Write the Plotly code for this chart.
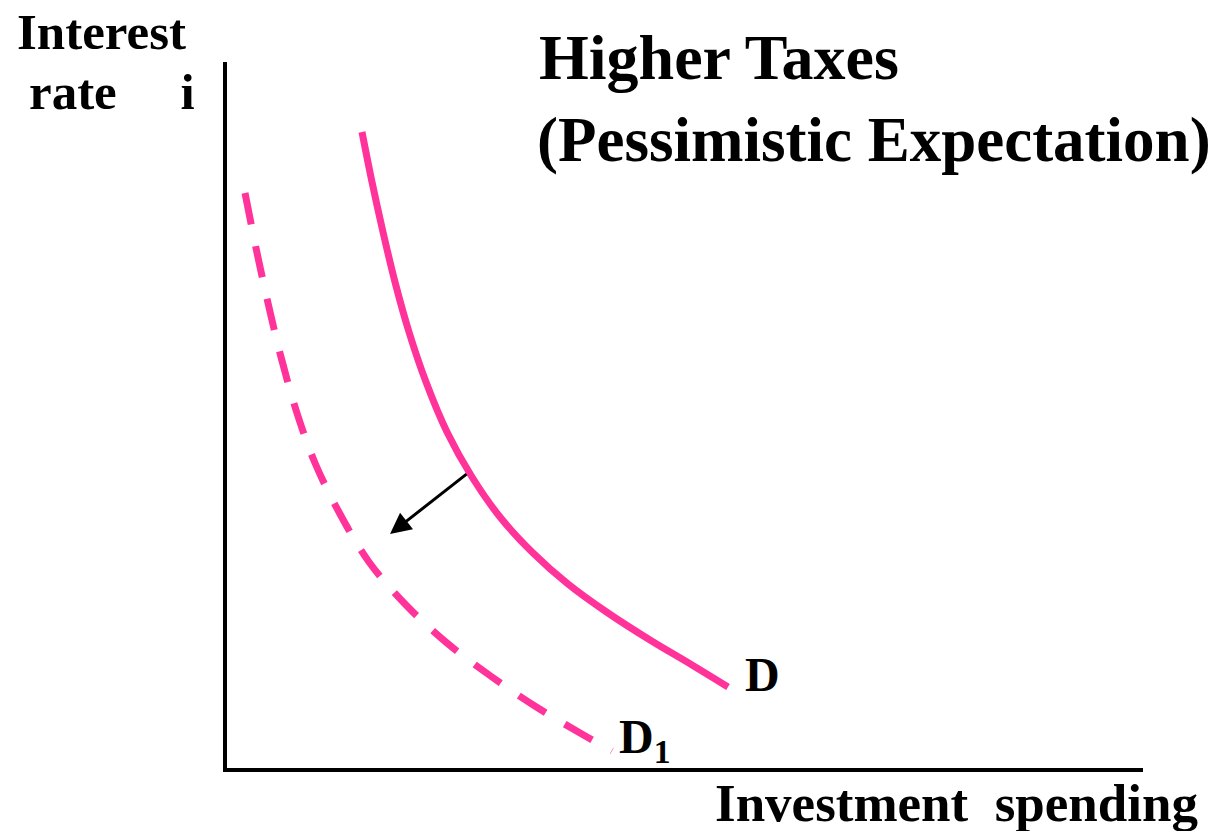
import plotly.graph_objects as go

# Investment demand curves (investment spending vs. interest rate)
d_invest = [1.35, 1.45, 1.56, 1.68, 1.82, 1.99, 2.20, 2.45, 2.73, 3.05, 3.41, 3.81, 4.23, 4.65, 5.01]
d_rate = [6.36, 5.86, 5.36, 4.86, 4.36, 3.86, 3.36, 2.91, 2.51, 2.16, 1.84, 1.55, 1.28, 1.03, 0.81]

d1_invest = [0.18, 0.29, 0.41, 0.54, 0.69, 0.88, 1.13, 1.42, 1.79, 2.20, 2.65, 3.11, 3.60, 3.85]
d1_rate = [5.75, 5.20, 4.65, 4.11, 3.58, 3.05, 2.54, 2.06, 1.63, 1.25, 0.91, 0.60, 0.31, 0.17]

# Shift arrow: from a point on D toward D1
shift_from = (2.41, 2.95)
shift_to = (1.63, 2.34)

W, H = 1226, 831
PINK = "#FF3399"
FONT = "Liberation Serif"

fig = go.Figure()
fig.add_trace(go.Scatter(x=d_invest, y=d_rate, mode="lines",
                         line=dict(color=PINK, width=7, shape="spline", smoothing=1.0),
                         hoverinfo="skip", showlegend=False))
fig.add_trace(go.Scatter(x=d1_invest, y=d1_rate, mode="lines",
                         line=dict(color=PINK, width=7, shape="spline", smoothing=1.0,
                                   dash="32px,22px"),
                         hoverinfo="skip", showlegend=False))

fig.add_annotation(x=shift_to[0], y=shift_to[1], ax=shift_from[0], ay=shift_from[1],
                   xref="x", yref="y", axref="x", ayref="y", text="",
                   showarrow=True, arrowhead=2, arrowsize=1.4, arrowwidth=3,
                   arrowcolor="black")

fig.add_annotation(x=d_invest[-1] + 0.15, y=d_rate[-1] + 0.13, xref="x", yref="y",
                   text="<b>D</b>", showarrow=False, xanchor="left", yanchor="middle",
                   font=dict(family=FONT, size=48, color="black"))
fig.add_annotation(x=d1_invest[-1] + 0.05, y=d1_rate[-1] + 0.11, xref="x", yref="y",
                   text="<b>D<sub>1</sub></b>", showarrow=False, xanchor="left", yanchor="middle",
                   font=dict(family=FONT, size=48, color="black"))


def px(x, y):
    return x / W, 1 - y / H


def label(text, x, y, size, anchor="left"):
    ax, ay = px(x, y)
    fig.add_annotation(x=ax, y=ay, xref="paper", yref="paper", text=text,
                       showarrow=False, xanchor=anchor, yanchor="middle",
                       font=dict(family=FONT, size=size, color="black"))


label("<b>Higher Taxes</b>", 537, 58, 64)
label("<b>(Pessimistic Expectation)</b>", 535, 140, 63)
label("<b>Interest</b>", 15, 32, 51)
label("<b>rate     i</b>", 27, 92, 51)
label("<b>Investment  spending</b>", 713, 803, 53)

x0, x1 = 227, 1143
y0, y1 = 768, 62
fig.update_layout(
    width=W, height=H,
    margin=dict(l=0, r=0, t=0, b=0),
    paper_bgcolor="white", plot_bgcolor="white",
    xaxis=dict(domain=[x0 / W, x1 / W], range=[0, (x1 - x0) / 100],
               showgrid=False, zeroline=False, showticklabels=False, ticks="",
               showline=True, linecolor="black", linewidth=4),
    yaxis=dict(domain=[1 - y0 / H, 1 - y1 / H], range=[0, (y0 - y1) / 100],
               showgrid=False, zeroline=False, showticklabels=False, ticks="",
               showline=True, linecolor="black", linewidth=4),
)

fig.write_html("out.html")
